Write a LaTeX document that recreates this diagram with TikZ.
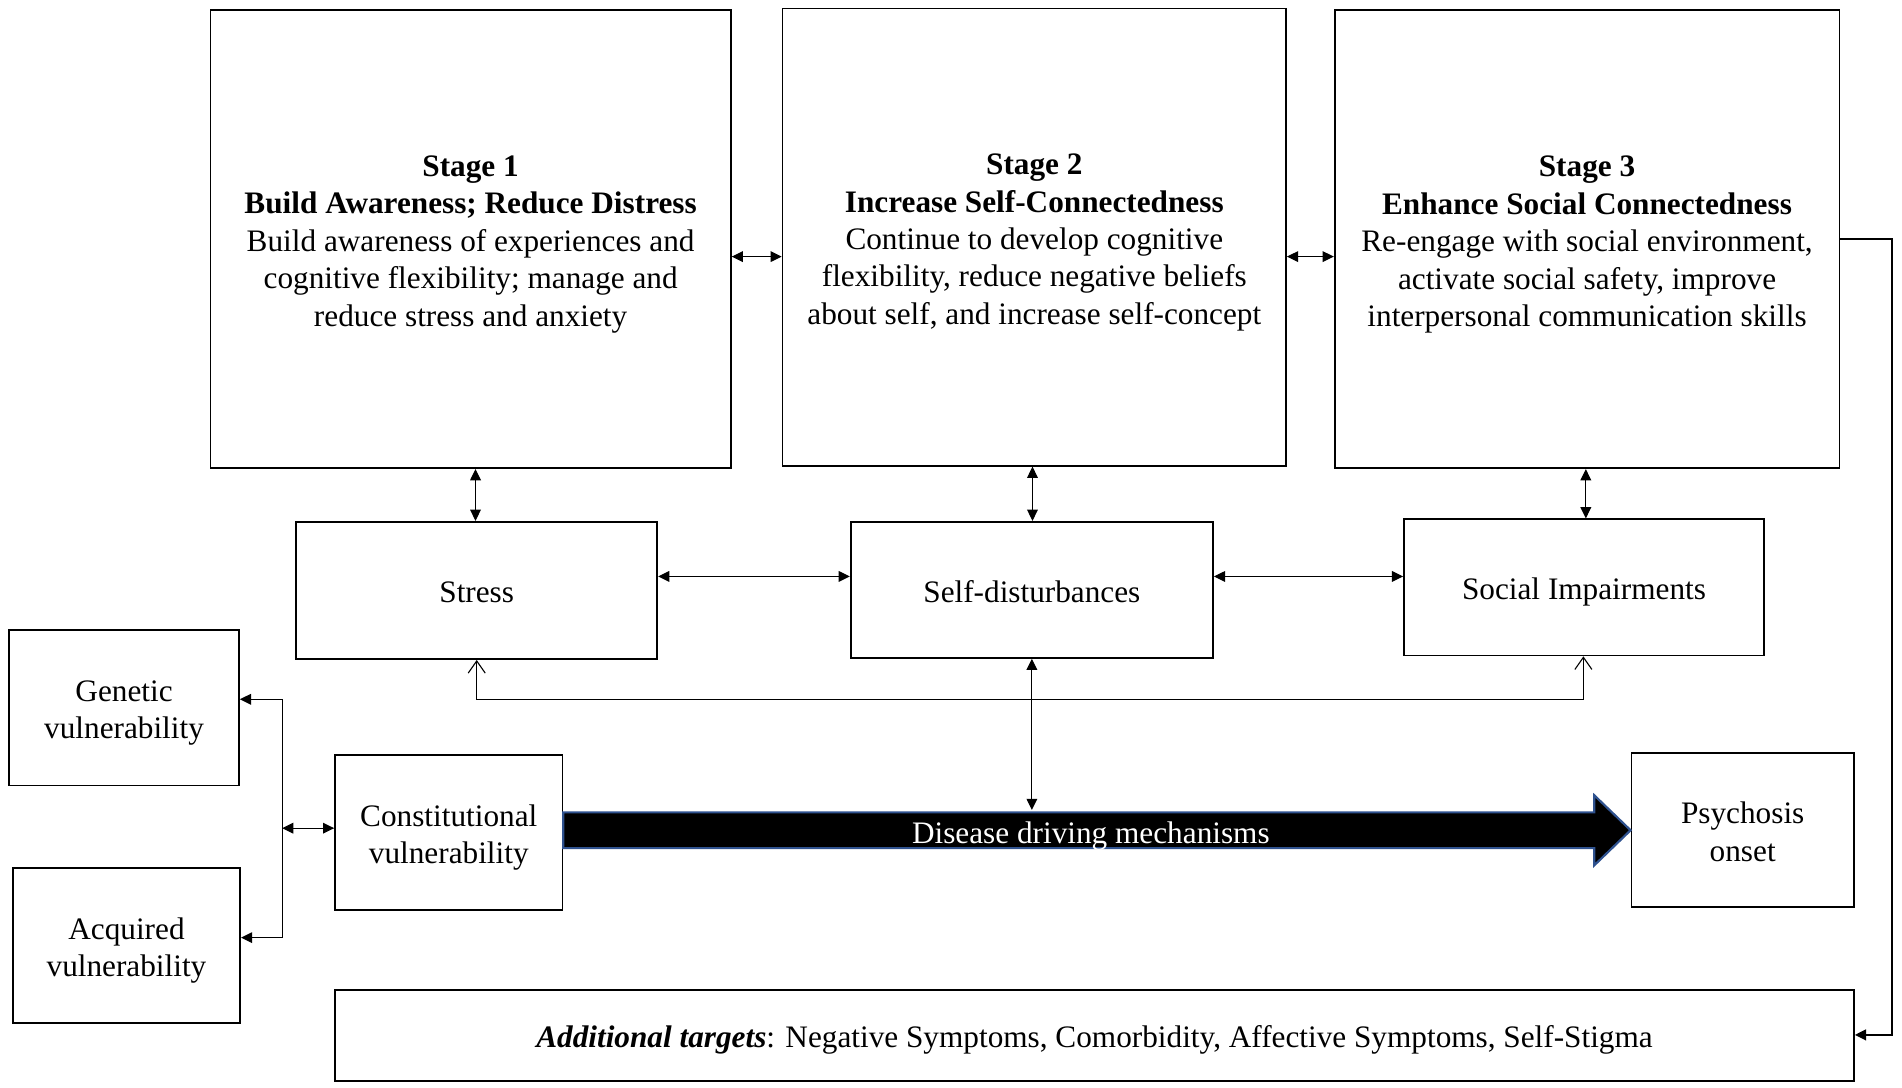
\documentclass[tikz,border=0pt]{standalone}
\usepackage{fontspec}
\setmainfont{Liberation Serif}
\usetikzlibrary{arrows.meta,calc}
\definecolor{arrowblue}{RGB}{47,82,143}
\newcommand{\boxtxt}[1]{\raisebox{-2pt}[\height][\depth]{\begin{tabular}{@{}c@{}}#1\end{tabular}}}
\begin{document}
\begin{tikzpicture}[x=0.5pt,y=-0.5pt,
  every node/.style={font=\fontsize{12.85}{15.4}\selectfont},
  box/.style={draw, line width=0.7pt, inner sep=0pt, align=center},
  conn/.style={line width=0.45pt},
  tri/.style={conn, {Triangle[length=4.6pt,width=4.4pt]}-{Triangle[length=4.6pt,width=4.4pt]}},
  trione/.style={conn, -{Triangle[length=4.6pt,width=4.4pt]}},
  barb/.style={conn, {Straight Barb[length=5pt,width=7pt,line width=0.45pt]}-{Straight Barb[length=5pt,width=7pt,line width=0.45pt]}}
]
\useasboundingbox (0,0) rectangle (1564,894.6);

% stage boxes
\node[box, minimum width=214pt, minimum height=188.5pt] (s1) at (387,196.5)
  {\boxtxt{\textbf{Stage 1}\\ \textbf{Build Awareness; Reduce Distress}\\ Build awareness of experiences and\\ cognitive flexibility; manage and\\ reduce stress and anxiety}};
\node[box, minimum width=207pt, minimum height=188pt] (s2) at (850.5,195)
  {\boxtxt{\textbf{Stage 2}\\ \textbf{Increase Self-Connectedness}\\ Continue to develop cognitive\\ flexibility, reduce negative beliefs\\ about self, and increase self-concept}};
\node[box, minimum width=207.5pt, minimum height=188.25pt] (s3) at (1305,196.75)
  {\boxtxt{\textbf{Stage 3}\\ \textbf{Enhance Social Connectedness}\\ Re-engage with social environment,\\ activate social safety, improve\\ interpersonal communication skills}};

% mechanism boxes
\node[box, minimum width=148.5pt, minimum height=56.5pt] (stress) at (392,485.5) {\boxtxt{Stress}};
\node[box, minimum width=149pt, minimum height=56pt] (selfd) at (848.5,485) {\boxtxt{Self-disturbances}};
\node[box, minimum width=148pt, minimum height=56pt] (social) at (1302.5,483) {\boxtxt{Social Impairments}};

% vulnerability boxes
\node[box, minimum width=94.5pt, minimum height=64pt] (gen) at (102,582) {\boxtxt{Genetic\\ vulnerability}};
\node[box, minimum width=93.5pt, minimum height=63.5pt] (acq) at (104,777.5) {\boxtxt{Acquired\\ vulnerability}};
\node[box, minimum width=93.5pt, minimum height=63.5pt] (con) at (369,684.5) {\boxtxt{Constitutional\\ vulnerability}};
\node[box, minimum width=91.5pt, minimum height=63.5pt] (psy) at (1433,682.5) {\boxtxt{Psychosis\\ onset}};
\node[box, minimum width=624.5pt, minimum height=37.5pt] (add) at (900,851.5)
  {\boxtxt{\textbf{\textit{Additional targets}}: Negative Symptoms, Comorbidity, Affective Symptoms, Self-Stigma}};

% big arrow
\draw[fill=black, draw=arrowblue, line width=0.9pt]
  (con.east |- 0,668) -- (1311,668) -- (1311,654) -- (psy.west |- 0,682.7)
  -- (1311,711.5) -- (1311,697.4) -- (con.east |- 0,697.4) -- cycle;
\node[text=white, inner sep=0pt] (ddm) at (897,687.5) {Disease driving mechanisms};

% coordinates
\coordinate (y12) at (0,211);
\coordinate (ym) at (0,474);
\coordinate (x1) at (391,0);
\coordinate (x2) at (849,0);
\coordinate (x3) at (1304,0);
\coordinate (fbl) at (392,575);
\coordinate (fbr) at (1302,575);
\coordinate (ddtop) at (848.5,666);
\coordinate (vbt) at (232,575);
\coordinate (vbm) at (232,681);
\coordinate (vbb) at (232,771);
\coordinate (rt) at (1556,196.3);
\coordinate (rb) at (1556,851);

% connectors
\draw[tri] (s1.east |- y12) -- (s2.west |- y12);
\draw[tri] (s2.east |- y12) -- (s3.west |- y12);
\draw[tri] (s1.south -| x1) -- (stress.north -| x1);
\draw[tri] (s2.south -| x2) -- (selfd.north -| x2);
\draw[tri] (s3.south -| x3) -- (social.north -| x3);
\draw[tri] (stress.east |- ym) -- (selfd.west |- ym);
\draw[tri] (selfd.east |- ym) -- (social.west |- ym);
\draw[barb] (stress.south -| fbl) -- (fbl) -- (fbr) -- (social.south -| fbr);
\draw[tri] (selfd.south -| ddtop) -- (ddtop);
\draw[tri] (gen.east |- vbt) -- (vbt) -- (vbb) -- (acq.east |- vbb);
\draw[tri] (vbm) -- (con.west |- vbm);
\draw[trione, line width=0.7pt] (s3.east |- rt) -- (rt) -- (rb) -- (add.east |- rb);
\end{tikzpicture}
\end{document}
